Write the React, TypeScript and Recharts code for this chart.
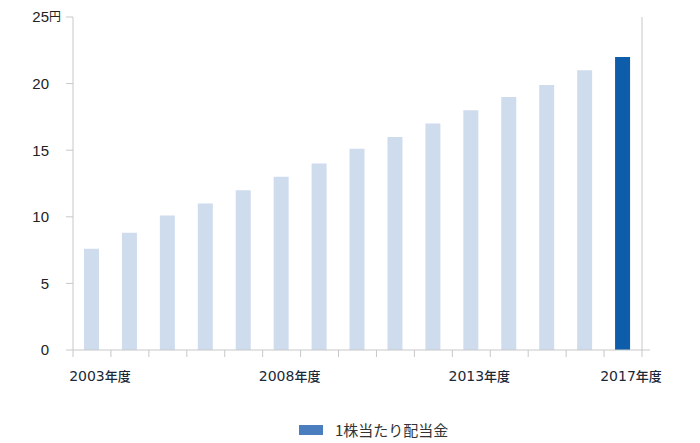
import React from "react";
import { Bar, BarChart, Cell, ReferenceLine, XAxis, YAxis } from "recharts";

const years = [
  "2003", "2004", "2005", "2006", "2007", "2008", "2009", "2010",
  "2011", "2012", "2013", "2014", "2015", "2016", "2017",
];
const dividends = [7.6, 8.8, 10.1, 11, 12, 13, 14, 15.1, 16, 17, 18, 19, 19.9, 21, 22];
const labeledYears = ["2003", "2008", "2013", "2017"];
const yTicks = [0, 5, 10, 15, 20, 25];
const gridTicks = [0, 1, 2, 3, 4, 5, 6, 7, 8, 9, 10, 11, 12, 13, 14, 15];
const seriesName = "1株当たり配当金";

// slot = category index centred in its band, used only by the boundary-tick axis
const data = years.map((year, i) => ({ year, value: dividends[i], slot: i + 0.5 }));

const LINE = "#c8c8c8";
const LIGHT = "#cfdcee";
const DARK = "#0e5daa";

function YTick(props: any) {
  const { x, y, payload } = props;
  return (
    <g>
      {payload.value !== 0 && <line x1={x} x2={x + 7} y1={y} y2={y} stroke={LINE} />}
      <text x={x - 17} y={y} dy="0.36em" textAnchor="end" fill="#222" fontSize={15}
        fontFamily="'Liberation Sans', Arial, sans-serif">
        {payload.value}
      </text>
      {payload.value === 25 && (
        <text x={x - 17} y={y} dy="0.36em" textAnchor="start" fill="#222" fontSize={12}
          fontFamily="'Noto Sans CJK JP', sans-serif">
          円
        </text>
      )}
    </g>
  );
}

function XTick(props: any) {
  const { x, y, payload } = props;
  if (!labeledYears.includes(payload.value)) return <g />;
  return (
    <text x={x + 8} y={y + 30} textAnchor="middle" fill="#1a2838">
      <tspan fontSize={14} fontFamily="'DejaVu Sans', sans-serif">{payload.value}</tspan>
      <tspan fontSize={13} fontFamily="'Noto Sans CJK JP', sans-serif" fontWeight={500}>年度</tspan>
    </text>
  );
}

export default function App() {
  return (
    <div style={{ position: "absolute", left: 0, top: 0, width: 700, height: 443, background: "#fff" }}>
      <BarChart
        width={700}
        height={443}
        data={data}
        margin={{ top: 17, right: 50, left: 0, bottom: 62 }}
      >
        <XAxis
          xAxisId="a"
          type="number"
          dataKey="slot"
          domain={[0, 15]}
          allowDataOverflow
          ticks={gridTicks}
          padding={{ left: 7, right: 8 }}
          height={1}
          tickSize={7}
          tickFormatter={() => ""}
          axisLine={{ stroke: LINE }}
          tickLine={{ stroke: LINE }}
        />
        <XAxis
          xAxisId="b"
          dataKey="year"
          padding={{ left: 7, right: 8 }}
          height={30}
          interval={0}
          tickSize={0}
          tickMargin={0}
          axisLine={false}
          tickLine={false}
          tick={XTick}
        />
        <YAxis
          domain={[0, 25]}
          ticks={yTicks}
          width={66}
          tickSize={0}
          tickMargin={0}
          axisLine={false}
          tickLine={false}
          tick={YTick}
        />
        <ReferenceLine xAxisId="a" x={0} stroke={LINE} />
        <ReferenceLine xAxisId="a" x={15} stroke={LINE} />
        <Bar xAxisId="b" dataKey="value" name={seriesName} barSize={15} isAnimationActive={false}>
          {data.map((d, i) => (
            <Cell key={d.year} fill={i === data.length - 1 ? DARK : LIGHT} />
          ))}
        </Bar>
      </BarChart>
      <div
        style={{
          position: "absolute",
          left: 299,
          top: 419,
          display: "flex",
          alignItems: "center",
          fontFamily: "'Noto Sans CJK JP', sans-serif",
          fontSize: 15,
          color: "#333",
        }}
      >
        <span style={{ display: "inline-block", width: 24, height: 10, background: "#4a7ebf", marginRight: 12 }} />
        <span>{seriesName}</span>
      </div>
    </div>
  );
}
